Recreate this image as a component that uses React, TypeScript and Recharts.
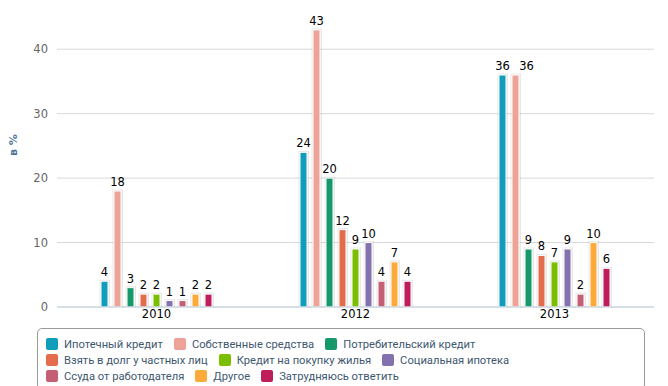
import { BarChart, Bar, XAxis, YAxis, CartesianGrid, Legend, LabelList } from 'recharts'

const years = ['2010', '2012', '2013']
const yTicks = [0, 10, 20, 30, 40]

const mortgage = [4, 24, 36]
const ownFunds = [18, 43, 36]
const consumerLoan = [3, 20, 9]
const privateLoan = [2, 12, 8]
const housingLoan = [2, 9, 7]
const socialMortgage = [1, 10, 9]
const employerLoan = [1, 4, 2]
const other = [2, 7, 10]
const noAnswer = [2, 4, 6]

const series = [
  { key: 'mortgage', name: 'Ипотечный кредит', color: '#0f9dbb', values: mortgage },
  { key: 'ownFunds', name: 'Собственные средства', color: '#eda398', values: ownFunds },
  { key: 'consumerLoan', name: 'Потребительский кредит', color: '#14986c', values: consumerLoan },
  { key: 'privateLoan', name: 'Взять в долг у частных лиц', color: '#e26c4b', values: privateLoan },
  { key: 'housingLoan', name: 'Кредит на покупку жилья', color: '#7bbe00', values: housingLoan },
  { key: 'socialMortgage', name: 'Социальная ипотека', color: '#8472ae', values: socialMortgage },
  { key: 'employerLoan', name: 'Ссуда от работодателя', color: '#c45f74', values: employerLoan },
  { key: 'other', name: 'Другое', color: '#fcab3b', values: other },
  { key: 'noAnswer', name: 'Затрудняюсь ответить', color: '#be1c5b', values: noAnswer },
]

const data = years.map((year, i) => {
  const row: Record<string, string | number> = { year }
  series.forEach((s) => {
    row[s.key] = s.values[i]
  })
  return row
})

const FONT = '"DejaVu Sans", sans-serif'
const LEGEND_FONT = 'Roboto, sans-serif'
const LEGEND_H = 62
const XAXIS_H = 17

// bar with a soft halo, close to the highcharts shadow look
function ShadowBar(props: any) {
  const { x, y, width, height, fill } = props
  if (!height || height <= 0) return null
  return (
    <g>
      <rect x={x - 1.5} y={y - 1.5} width={width + 3.5} height={height + 1.5} fill="#000" opacity={0.09} />
      <rect x={x} y={y} width={width} height={height} fill={fill} stroke="#fff" strokeWidth={1} />
    </g>
  )
}

// value label; nudged right when it would collide with the neighbour's label
function makeLabel(seriesIndex: number) {
  return function ValueLabel(props: any) {
    const { x, y, width, value, index } = props
    let dx = 0
    if (seriesIndex > 0) {
      const prev = series[seriesIndex - 1].values[index]
      const wide = String(value).length > 1 && String(prev).length > 1
      if (wide && Math.abs(prev - value) < 2) dx = 11
    }
    return (
      <text
        x={x + width / 2 + dx}
        y={y - 5}
        textAnchor="middle"
        fill="#000"
        fontSize={11.5}
        fontFamily={FONT}
      >
        {value}
      </text>
    )
  }
}

function LegendBox() {
  const rows = [series.slice(0, 3), series.slice(3, 6), series.slice(6, 9)]
  return (
    <div
      style={{
        border: '1px solid #999',
        borderRadius: 5,
        height: LEGEND_H,
        boxSizing: 'border-box',
        padding: '7px 0 0 8px',
        fontFamily: LEGEND_FONT,
        fontSize: 11.2,
        color: '#3e576f',
      }}
    >
      {rows.map((row, r) => (
        <div key={r} style={{ display: 'flex', height: 16, alignItems: 'center' }}>
          {row.map((s) => (
            <div key={s.key} style={{ display: 'flex', alignItems: 'center', marginRight: 11 }}>
              <span
                style={{
                  width: 12,
                  height: 12,
                  borderRadius: 2,
                  background: s.color,
                  marginRight: 6,
                  display: 'inline-block',
                }}
              />
              <span style={{ whiteSpace: 'nowrap' }}>{s.name}</span>
            </div>
          ))}
        </div>
      ))}
    </div>
  )
}

export default function App() {
  return (
    <div style={{ position: 'absolute', left: 0, top: 0, background: '#fff' }}>
      <BarChart
        width={668}
        height={386}
        data={data}
        margin={{ top: 17, right: 14, left: 0, bottom: 79 - LEGEND_H - XAXIS_H }}
        barGap={6}
        barSize={7}
      >
        <CartesianGrid vertical={false} syncWithTicks stroke="#d8d8d8" />
        <XAxis
          dataKey="year"
          height={XAXIS_H}
          axisLine={{ stroke: '#c0d0e0' }}
          tickLine={false}
          tickSize={0}
          tickMargin={3}
          tick={{ fill: '#000', fontSize: 11.5, fontFamily: FONT }}
        />
        <YAxis
          width={57}
          domain={[0, 45]}
          ticks={yTicks}
          axisLine={false}
          tickLine={false}
          tickMargin={3}
          tick={{ fill: '#666', fontSize: 11.5, fontFamily: FONT }}
          label={{
            value: 'в %',
            angle: -90,
            position: 'insideLeft',
            offset: 13,
            dy: -6,
            style: { fill: '#4d759e', fontSize: 11, fontWeight: 'bold', fontFamily: FONT },
          }}
        />
        <Legend
          verticalAlign="bottom"
          content={() => <LegendBox />}
          wrapperStyle={{ left: 37, top: 328, width: 608, height: LEGEND_H }}
        />
        {series.map((s, i) => (
          <Bar
            key={s.key}
            dataKey={s.key}
            name={s.name}
            fill={s.color}
            shape={<ShadowBar />}
            isAnimationActive={false}
          >
            <LabelList dataKey={s.key} content={makeLabel(i)} />
          </Bar>
        ))}
      </BarChart>
    </div>
  )
}
